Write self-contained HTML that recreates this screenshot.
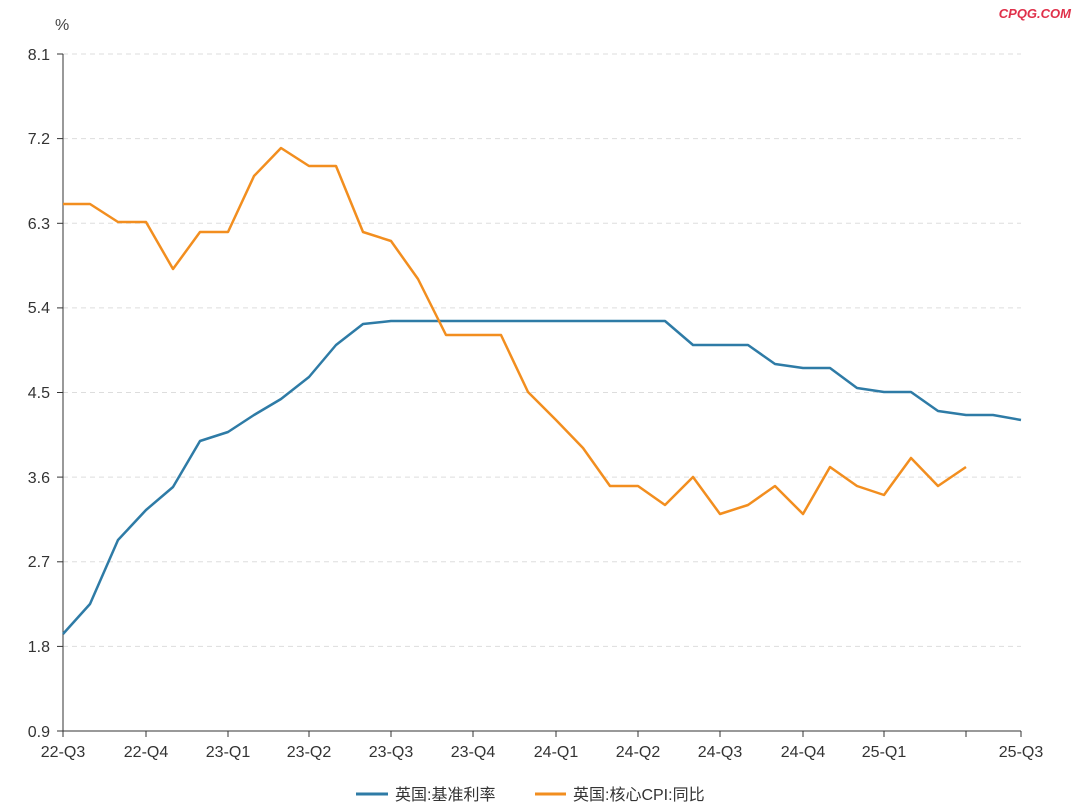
<!DOCTYPE html>
<html><head><meta charset="utf-8"><style>
body{margin:0;background:#fff;}
svg text{font-family:"Liberation Sans","Noto Sans CJK SC",sans-serif;}
</style></head><body>
<svg width="1080" height="807" viewBox="0 0 1080 807" xmlns="http://www.w3.org/2000/svg">
<rect width="1080" height="807" fill="#fff"/>
<text x="1071" y="18" font-size="13" font-style="italic" font-weight="bold" fill="#e0304a" text-anchor="end">CPQG.COM</text>
<text x="55" y="30" font-size="16" fill="#444">%</text>
<g stroke="#ddd" stroke-dasharray="5,4" stroke-width="1">
<line x1="63" x2="1021" y1="54" y2="54"/><line x1="63" x2="1021" y1="138.6" y2="138.6"/>
<line x1="63" x2="1021" y1="223.3" y2="223.3"/><line x1="63" x2="1021" y1="307.9" y2="307.9"/>
<line x1="63" x2="1021" y1="392.5" y2="392.5"/><line x1="63" x2="1021" y1="477.1" y2="477.1"/>
<line x1="63" x2="1021" y1="561.8" y2="561.8"/><line x1="63" x2="1021" y1="646.4" y2="646.4"/>
</g>
<g stroke="#333" stroke-width="1">
<line x1="63" x2="63" y1="54" y2="731"/><line x1="63" x2="1021" y1="731" y2="731"/>
<line x1="57" x2="63" y1="54" y2="54"/><line x1="57" x2="63" y1="138.6" y2="138.6"/><line x1="57" x2="63" y1="223.3" y2="223.3"/><line x1="57" x2="63" y1="307.9" y2="307.9"/><line x1="57" x2="63" y1="392.5" y2="392.5"/><line x1="57" x2="63" y1="477.1" y2="477.1"/><line x1="57" x2="63" y1="561.8" y2="561.8"/><line x1="57" x2="63" y1="646.4" y2="646.4"/><line x1="57" x2="63" y1="731" y2="731"/>
<line x1="63" x2="63" y1="731" y2="737"/><line x1="146" x2="146" y1="731" y2="737"/><line x1="228" x2="228" y1="731" y2="737"/><line x1="309" x2="309" y1="731" y2="737"/><line x1="391" x2="391" y1="731" y2="737"/><line x1="473" x2="473" y1="731" y2="737"/><line x1="556" x2="556" y1="731" y2="737"/><line x1="638" x2="638" y1="731" y2="737"/><line x1="720" x2="720" y1="731" y2="737"/><line x1="803" x2="803" y1="731" y2="737"/><line x1="884" x2="884" y1="731" y2="737"/><line x1="966" x2="966" y1="731" y2="737"/><line x1="1021" x2="1021" y1="731" y2="737"/>
</g>
<g font-size="16" fill="#333" text-anchor="end">
<text x="50" y="60">8.1</text><text x="50" y="144">7.2</text><text x="50" y="229">6.3</text><text x="50" y="313">5.4</text><text x="50" y="398">4.5</text><text x="50" y="483">3.6</text><text x="50" y="567">2.7</text><text x="50" y="652">1.8</text><text x="50" y="737">0.9</text>
</g>
<g font-size="16" fill="#333" text-anchor="middle">
<text x="63" y="757">22-Q3</text><text x="146" y="757">22-Q4</text><text x="228" y="757">23-Q1</text><text x="309" y="757">23-Q2</text><text x="391" y="757">23-Q3</text><text x="473" y="757">23-Q4</text><text x="556" y="757">24-Q1</text><text x="638" y="757">24-Q2</text><text x="720" y="757">24-Q3</text><text x="803" y="757">24-Q4</text><text x="884" y="757">25-Q1</text><text x="1021" y="757">25-Q3</text>
</g>
<polyline fill="none" stroke="#2e7ba6" stroke-width="2.5" stroke-linejoin="round" points="63,634 90,604 118,540 146,510 173,487 200,441 228,432 254,415 281,399 309,377 336,345 363,324 391,321 665,321 693,345 720,345 748,345 775,364 803,368 830,368 857,388 884,392 911,392 938,411 966,415 993,415 1021,420"/>
<polyline fill="none" stroke="#f28e1f" stroke-width="2.5" stroke-linejoin="round" points="63,204 90,204 118,222 146,222 173,269 200,232 228,232 254,176 281,148 309,166 336,166 363,232 391,241 418,279 446,335 473,335 501,335 528,392 556,420 583,448 610,486 638,486 665,505 693,477 720,514 748,505 775,486 803,514 830,467 857,486 884,495 911,458 938,486 966,467"/>
<line x1="356" x2="388" y1="794" y2="794" stroke="#2e7ba6" stroke-width="3"/>
<text x="395" y="800" font-size="16" fill="#333">英国:基准利率</text>
<line x1="535" x2="566" y1="794" y2="794" stroke="#f28e1f" stroke-width="3"/>
<text x="573" y="800" font-size="16" fill="#333">英国:核心CPI:同比</text>
</svg>
</body></html>
